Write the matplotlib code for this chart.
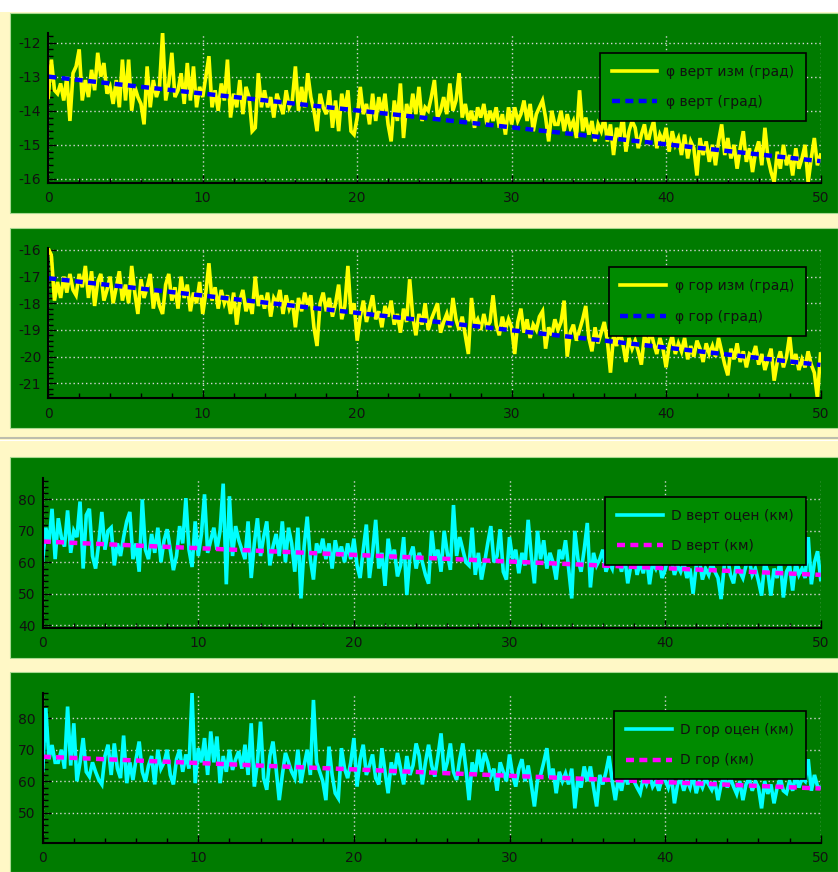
import numpy as np
import matplotlib.pyplot as plt
from matplotlib.patches import Rectangle
from matplotlib.lines import Line2D
from matplotlib.ticker import MultipleLocator

plt.rcParams['font.family'] = ['DejaVu Sans']
plt.rcParams['axes.unicode_minus'] = False

W, H = 838, 872

# measured / estimated series, sampled every 0.2 along the x axis (0..50)
phi_vert_meas = [
    -13.6, -12.5, -13.4, -13.5, -13.2, -13.7, -13.0, -14.3, -12.9, -12.7,
    -12.2, -13.7, -13.1, -13.6, -12.8, -13.4, -12.3, -13.0, -12.6, -13.5,
    -13.3, -13.8, -13.1, -13.9, -12.5, -13.7, -12.5, -14.0, -13.3, -13.6,
    -13.8, -14.4, -12.7, -13.9, -13.1, -13.6, -13.3, -11.7, -13.7, -13.2,
    -12.3, -13.6, -13.4, -12.9, -13.8, -12.6, -13.7, -12.7, -13.9, -13.3,
    -13.6, -13.0, -12.4, -13.9, -13.4, -14.0, -13.2, -13.7, -12.5, -14.2,
    -13.5, -13.9, -13.1, -14.1, -13.3, -13.6, -14.6, -14.5, -12.9, -13.9,
    -13.4, -13.9, -13.6, -14.2, -13.5, -13.8, -14.1, -13.4, -13.9, -13.7,
    -12.7, -14.0, -13.3, -13.9, -12.9, -13.6, -14.0, -14.6, -13.5, -13.9,
    -14.1, -13.4, -14.5, -13.7, -14.6, -13.5, -14.0, -13.4, -14.6, -14.7,
    -14.2, -13.3, -14.1, -13.8, -14.4, -13.5, -14.3, -13.6, -14.1, -13.5,
    -14.4, -14.9, -13.7, -14.3, -13.2, -14.8, -13.8, -14.2, -13.5, -14.1,
    -13.3, -14.3, -13.9, -14.0, -13.6, -13.1, -14.2, -14.0, -13.6, -14.1,
    -13.2, -14.0, -13.7, -12.9, -14.2, -13.8, -14.3, -14.0, -14.5, -13.9,
    -14.2, -13.8, -14.4, -14.0, -14.3, -13.9, -14.5, -14.1, -14.7, -13.9,
    -14.4, -13.9, -14.3, -14.1, -13.7, -14.3, -13.8, -14.6, -14.1, -13.9,
    -13.7, -14.2, -14.9, -14.0, -14.4, -14.4, -14.0, -14.6, -14.1, -14.5,
    -14.3, -14.8, -13.4, -14.6, -14.2, -14.7, -14.3, -14.9, -14.4, -14.6,
    -14.2, -14.9, -14.4, -15.3, -14.5, -14.8, -14.1, -15.2, -14.6, -14.3,
    -14.5, -15.1, -14.7, -14.4, -15.0, -14.6, -14.3, -15.1, -14.7, -14.9,
    -14.5, -15.2, -14.6, -15.0, -14.8, -15.3, -14.7, -15.4, -14.9, -15.1,
    -15.9, -14.8, -15.3, -14.9, -15.5, -15.0, -15.6, -14.9, -14.4, -15.3,
    -14.8, -15.4, -15.0, -15.7, -15.1, -14.6, -15.5, -15.1, -15.8, -15.2,
    -14.9, -15.6, -14.5, -15.4, -15.8, -16.1, -15.2, -15.7, -15.0, -15.6,
    -15.3, -15.9, -15.1, -15.7, -15.4, -15.0, -16.1, -15.4, -14.8, -15.6,
    -15.3,
]

phi_hor_meas = [
    -15.95, -16.2, -17.9, -17.2, -17.8, -17.0, -17.6, -16.9, -17.5, -17.7,
    -16.9, -17.4, -16.6, -17.8, -16.8, -18.1, -17.2, -16.9, -17.9, -17.5,
    -17.0, -18.0, -17.4, -16.8, -17.9, -17.3, -18.0, -16.6, -17.6, -18.4,
    -17.1, -17.8, -17.4, -16.9, -18.2, -17.5, -18.1, -18.4, -17.3, -16.9,
    -17.9, -17.4, -18.2, -17.0, -17.8, -17.3, -18.3, -17.6, -18.0, -17.2,
    -18.4, -17.6, -16.5, -17.9, -17.4, -18.2, -17.5, -18.0, -17.7, -18.4,
    -17.6, -18.8, -17.9, -17.5, -18.3, -17.9, -18.4, -17.0, -18.1, -17.7,
    -18.2, -17.6, -18.5, -17.8, -18.0, -17.5, -18.4, -17.7, -18.2, -17.9,
    -18.9, -17.8, -18.3, -17.6, -18.1, -17.7, -18.9, -19.6, -18.0, -17.6,
    -18.3, -17.8, -18.5, -18.0, -17.3, -18.6, -18.1, -16.6, -18.4, -18.0,
    -19.4, -18.5, -17.9, -18.7, -18.2, -17.7, -18.6, -18.3, -18.9, -18.1,
    -18.5, -17.9, -18.8, -18.4, -19.1, -18.2, -18.7, -17.1, -18.5, -19.2,
    -18.4, -18.8, -18.0, -19.0, -18.6, -18.3, -18.0, -19.1, -18.7, -18.4,
    -18.9, -17.8, -18.6, -19.0, -18.5, -19.2, -19.9, -17.8, -18.8, -18.6,
    -19.0, -18.4, -18.9, -18.7, -17.7, -18.8, -19.2, -18.5, -19.0, -18.6,
    -18.9, -19.9, -18.7, -18.2, -19.1, -18.6, -19.3, -18.8, -19.0, -18.5,
    -18.3, -19.7, -18.9, -19.2, -18.6, -19.0, -18.7, -17.9, -20.0, -19.1,
    -18.8, -19.4, -19.0, -18.6, -18.1, -19.3, -19.8, -18.9, -19.5, -19.1,
    -18.7, -19.4, -20.6, -19.2, -19.6, -19.0, -19.5, -20.2, -19.3, -19.7,
    -19.4, -19.8, -20.3, -19.2, -19.6, -19.0, -19.5, -19.9, -19.3, -19.7,
    -20.4, -19.6, -19.2, -19.9, -19.5, -19.8, -19.3, -20.1, -19.6, -20.0,
    -19.4, -19.7, -20.2, -19.5, -19.9, -19.6, -20.0, -19.3, -19.8, -20.3,
    -20.7, -19.7, -20.1, -19.5, -20.2, -19.8, -20.4, -19.9, -20.0, -19.6,
    -20.3, -19.9, -20.5, -20.1, -19.7, -20.9, -20.2, -19.8, -20.4, -20.0,
    -19.2, -20.3, -19.9, -20.5, -20.1, -20.4, -19.8, -20.3, -20.6, -21.55,
    -19.9,
]

d_vert_est = [
    60.7, 71, 66, 77, 61, 74, 68, 65, 76.5, 63,
    70, 68, 79.3, 58, 75, 77, 62, 58, 66, 76,
    64, 70, 71, 59, 66, 62, 68, 73, 76, 61,
    66, 57, 80, 64, 61, 69, 63, 71, 60, 67,
    70.5, 64, 57.5, 62, 71.5, 66, 80.4, 64, 58.5, 73,
    62, 69, 81.6, 63, 67, 71, 64, 70, 85, 53,
    81, 62, 71.5, 67, 64, 61, 73, 55, 66, 74,
    62, 68, 73, 59, 65, 69, 62, 73, 60, 71,
    66, 57, 71, 48.5, 65, 74.5, 61, 54.5, 66, 63,
    67.5, 61, 66, 58, 67, 62, 65, 60, 66, 61,
    67.5, 59, 55, 64, 72, 55, 63, 73.5, 58, 63,
    52.5, 67.5, 61, 64, 55.5, 59, 68, 49.6, 62, 65,
    58, 63, 60, 56, 53.2, 70, 61, 64, 57, 70,
    63, 57.6, 78.2, 62, 68, 64, 60, 59, 71, 56,
    63, 54.5, 60, 66, 71.5, 60, 62, 70.5, 57, 54.5,
    68, 61, 64, 56.5, 63, 59, 73.5, 62, 53.3, 70,
    61, 67, 58, 63, 60, 54.5, 64, 61, 67, 58,
    48.5, 70, 61, 57, 64, 72.5, 52, 63, 59, 61,
    64, 57, 60, 58, 65, 61, 57, 62, 53.3, 59,
    63, 56, 60, 56.5, 62, 53, 60, 58, 61, 55,
    57.5, 62, 61, 56, 59, 57, 60, 55, 58, 50,
    59, 61, 54.5, 58, 56, 60, 57, 55, 48.3, 59,
    62, 56, 53.3, 60, 57, 55, 59, 61, 56, 58,
    54, 49.4, 60, 57, 49.4, 58, 55, 61, 48.8, 57,
    59, 51, 60, 56, 58, 55, 68, 53, 60, 63.5,
    54.5,
]

d_hor_est = [
    63.5, 83.2, 67, 71.5, 66, 66, 70, 64, 83.7, 65,
    78.4, 60, 66, 73.7, 63, 61.5, 66, 63, 60.5, 59,
    68, 71.6, 62, 72, 64, 61, 74.5, 59.4, 66, 60.4,
    67, 72.6, 63, 59.9, 65, 68, 59, 70, 64, 66,
    70, 62, 59, 67, 70, 63, 68.5, 64, 88, 59.4,
    70.5, 66, 73.7, 62, 75.8, 66, 74.2, 59.4, 68, 63,
    70, 63.6, 67, 69.5, 64, 71.6, 62, 78.4, 58.3, 66,
    78.9, 61, 57.3, 68, 72.6, 64, 54, 62, 69, 66,
    63, 61, 70, 59.4, 65, 70, 62, 85.8, 66, 63,
    60, 54, 71, 62, 56.2, 54.6, 70.5, 64, 61, 66,
    73.7, 58.3, 67, 71.6, 62, 65, 68.5, 61, 59, 70.5,
    63, 56.2, 66, 62, 69, 64, 59, 68, 62, 65,
    72, 68, 59, 66, 71.6, 65, 61.5, 68, 75.2, 62.5,
    66, 72, 63, 60.4, 67, 72, 64, 54, 66, 62,
    70, 63, 69, 66, 61.5, 64, 57, 66, 63, 60,
    68.5, 62, 58.3, 64, 67, 60, 65, 59, 52, 60.4,
    62, 66, 70.5, 61, 64, 56.2, 63, 60, 62.5, 59,
    64, 51.4, 61, 58, 64.7, 60, 64.7, 58, 52, 62,
    59, 63, 68, 60, 54, 61, 57, 62.5, 59, 63,
    60, 58, 56.2, 61, 59, 62, 58.3, 60, 57, 61,
    60.4, 58, 62, 53, 59, 61, 57, 60.4, 58, 62,
    56.2, 60, 58, 61, 59, 57.3, 60, 54, 59, 62,
    58, 61, 58.3, 56, 60, 54, 59, 61, 57, 60,
    58, 51.4, 60, 56, 59, 53, 58, 61, 57, 56.2,
    60, 57, 62, 58, 61, 60, 67, 57, 62, 58.3,
    58,
]

# true values (straight lines between the end points)
t_true = [0, 50]
phi_vert_true = [-13.0, -15.48]
phi_hor_true = [-17.06, -20.31]
d_vert_true = [66.6, 56.0]
d_hor_true = [67.8, 57.7]

BEIGE = '#fff8c6'
GREEN = '#007b00'
LEGEND_GREEN = '#008b00'
GRID = '#d4d4d4'


def px_rect(l, t, r, b):
    return [l / W, 1 - b / H, (r - l) / W, (b - t) / H]


fig = plt.figure(figsize=(W / 100, H / 100), dpi=100, facecolor=BEIGE)

# top strip of the window and the green plot frames (kept below the axes)
fig.patches.append(Rectangle((0, 1 - 12 / H), 1, 12 / H, transform=fig.transFigure,
                             facecolor='white', edgecolor='none', zorder=-5))
frames = [(10, 13, 838, 213), (10, 228, 838, 428), (10, 457, 838, 658), (10, 672, 838, 872)]
for l, t, r, b in frames:
    fig.patches.append(Rectangle((l / W, 1 - b / H), (r - l) / W, (b - t) / H,
                                 transform=fig.transFigure, facecolor=GREEN,
                                 edgecolor='#a8d890', linewidth=0.8, zorder=-5))
# splitter between the two groups of plots
fig.lines.append(Line2D([0, 1], [1 - 438 / H] * 2, transform=fig.transFigure,
                        color='#bdbdad', linewidth=1.5, zorder=-5))
fig.lines.append(Line2D([0, 1], [1 - 440.5 / H] * 2, transform=fig.transFigure,
                        color='#ffffff', linewidth=0.8, zorder=-5))

panels = [
    dict(rect=(48.3, 33, 820.5, 183), meas=phi_vert_meas, true=phi_vert_true,
         mc='#ffff00', tc='#0000ff', ylim=(-16.12, -11.72), major=1, minor=0.2,
         labels=('φ верт изм (град)', 'φ верт (град)'), anchor=(805.7, 52.7)),
    dict(rect=(48.3, 248.3, 820.5, 398.3), meas=phi_hor_meas, true=phi_hor_true,
         mc='#ffff00', tc='#0000ff', ylim=(-21.56, -15.94), major=1, minor=0.2,
         labels=('φ гор изм (град)', 'φ гор (град)'), anchor=(805.7, 267.3)),
    dict(rect=(42.7, 478.3, 820.7, 627.7), meas=d_vert_est, true=d_vert_true,
         mc='#00ffff', tc='#ff00ff', ylim=(39.2, 86.7), major=10, minor=2,
         labels=('D верт оцен (км)', 'D верт (км)'), anchor=(805.7, 496.7)),
    dict(rect=(42.7, 692.7, 820.7, 842.7), meas=d_hor_est, true=d_hor_true,
         mc='#00ffff', tc='#ff00ff', ylim=(40.5, 88.1), major=10, minor=2,
         labels=('D гор оцен (км)', 'D гор (км)'), anchor=(805.7, 711)),
]

for p in panels:
    ax = fig.add_axes(px_rect(*p['rect']))
    ax.set_facecolor(GREEN)
    t = np.linspace(0, 50, len(p['meas']))
    ax.plot(t, p['meas'], color=p['mc'], linewidth=2.6, label=p['labels'][0],
            solid_joinstyle='miter')
    ax.plot(t_true, p['true'], color=p['tc'], linewidth=3.2, dashes=(1.8, 1.2),
            label=p['labels'][1])
    ax.set_xlim(0, 50)
    ax.set_ylim(*p['ylim'])
    ax.xaxis.set_major_locator(MultipleLocator(10))
    ax.xaxis.set_minor_locator(MultipleLocator(2))
    ax.yaxis.set_major_locator(MultipleLocator(p['major']))
    ax.yaxis.set_minor_locator(MultipleLocator(p['minor']))
    ax.grid(True, which='major', color=GRID, linestyle=(0, (1, 2)), linewidth=1.0)
    ax.set_axisbelow(True)
    for s in ('top', 'right'):
        ax.spines[s].set_visible(False)
    for s in ('left', 'bottom'):
        ax.spines[s].set_color('black')
        ax.spines[s].set_linewidth(1.5)
    ax.tick_params(which='major', direction='in', length=6, width=1, color='black',
                   labelsize=10, labelcolor='#111111')
    ax.tick_params(which='minor', direction='in', length=3.5, width=1, color='black')
    ax.tick_params(axis='x', which='major', pad=6)
    ax.tick_params(axis='y', which='major', pad=5)

    ax_px, ay_px = p['anchor']
    leg = ax.legend(loc='upper right', bbox_to_anchor=(ax_px / W, 1 - ay_px / H),
                    bbox_transform=fig.transFigure, borderaxespad=0,
                    fontsize=10, fancybox=False, framealpha=1, facecolor=LEGEND_GREEN,
                    edgecolor='black', handlelength=3.3, handletextpad=0.6,
                    borderpad=0.85, labelspacing=1.2)
    leg.get_frame().set_linewidth(1.2)
    for txt in leg.get_texts():
        txt.set_color('#111111')

fig.savefig('out.png', dpi=100, facecolor=BEIGE)
